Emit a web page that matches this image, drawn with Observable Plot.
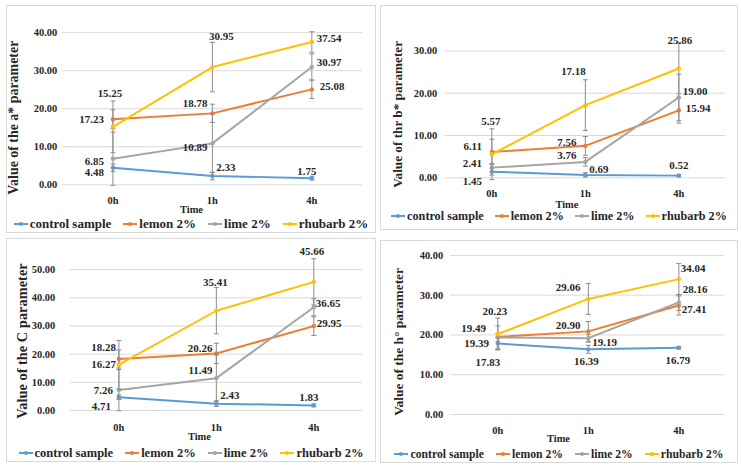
<!DOCTYPE html>
<html>
<head>
<meta charset="utf-8">
<script src="https://cdn.jsdelivr.net/npm/d3@7"></script>
<script src="https://cdn.jsdelivr.net/npm/@observablehq/plot@0.6"></script>
<style>
  body { margin: 0; background: #fff; }
  #root { position: relative; width: 741px; height: 470px; font-family: "Liberation Serif", "Times New Roman", Times, "DejaVu Serif", serif; font-weight: bold; color: #262626; }
  .panel { position: absolute; box-sizing: border-box; border: 1px solid #d9d9d9; background: #fff; }
  .panel > svg { position: absolute; left: -1px; top: -1px; overflow: visible; }
  .panel svg text { font-family: "Liberation Serif", "Times New Roman", Times, "DejaVu Serif", serif; }
  .legend { position: absolute; left: -1px; right: -1px; display: flex; justify-content: center; align-items: center; height: 16px; white-space: nowrap; }
  .legend .item { display: flex; align-items: center; }
  .legend .item svg { margin-right: 2px; }
</style>
</head>
<body>
<div id="root"></div>
<script>
// ---- data ----
const times = ["0h", "1h", "4h"];
const seriesNames = ["control sample", "lemon 2%", "lime 2%", "rhubarb 2%"];
const seriesColors = ["#5B9BD5", "#ED7D31", "#A5A5A5", "#FFC000"];

// a* parameter (rows: control, lemon, lime, rhubarb; cols: 0h, 1h, 4h)
const aValues = [[4.48, 2.33, 1.75], [17.23, 18.78, 25.08], [6.85, 10.89, 30.97], [15.25, 30.95, 37.54]];
const aErrors = [[1.0, 1.0, 0.5], [2.5, 2.4, 2.4], [7.0, 7.7, 3.4], [6.8, 6.5, 2.7]];
const aTicks = [0, 10, 20, 30, 40];

// b* parameter
const bValues = [[1.45, 0.69, 0.52], [6.11, 7.56, 15.94], [2.41, 3.76, 19.00], [5.57, 17.18, 25.86]];
const bErrors = [[0.8, 0.5, 0.3], [3.0, 2.2, 3.0], [1.0, 1.0, 5.5], [6.0, 6.0, 6.0]];
const bTicks = [0, 10, 20, 30];

// C parameter
const cValues = [[4.71, 2.43, 1.83], [18.28, 20.26, 29.95], [7.26, 11.49, 36.65], [16.27, 35.41, 45.66]];
const cErrors = [[0.8, 1.0, 0.5], [3.2, 3.6, 3.3], [7.3, 8.2, 3.0], [8.6, 8.2, 8.2]];
const cTicks = [0, 10, 20, 30, 40, 50];

// h° parameter
const hValues = [[17.83, 16.39, 16.79], [19.49, 20.90, 27.41], [19.39, 19.19, 28.16], [20.23, 29.06, 34.04]];
const hErrors = [[1.5, 1.0, 0.3], [2.8, 2.5, 2.4], [1.0, 1.0, 2.0], [4.0, 3.9, 3.9]];
const hTicks = [0, 10, 20, 30, 40];

const panelTitles = ["Value of the a* parameter", "Value of thr b* parameter", "Value of the C parameter", "Value of the h° parameter"];
const axisXTitle = "Time";

// ---- label placement (layout, not data): [dx, dy, anchor] per series per time ----
const aLabelPos = [
  [[-9, 5, "end"], [4, -9, "start"], [-5, -7, "middle"]],
  [[-9, 0, "end"], [-5, -10, "end"], [8, -3, "start"]],
  [[-9, 3, "end"], [-5, 4, "end"], [5, -5, "start"]],
  [[-3, -34, "middle"], [9, -31, "middle"], [5, -4, "start"]]
];
const bLabelPos = [
  [[-10, 10, "end"], [4, -5, "start"], [0, -10, "middle"]],
  [[-10, -6, "end"], [-9, -3, "end"], [7, -2, "start"]],
  [[-10, -4, "end"], [-9, -6, "end"], [4, -6, "start"]],
  [[-1, -33, "middle"], [-12, -34, "middle"], [1, -28, "middle"]]
];
const cLabelPos = [
  [[-8, 9, "end"], [4, -8, "start"], [-5, -8, "middle"]],
  [[-3, -12, "end"], [-4, -5, "end"], [3, -3, "start"]],
  [[-6, 0, "end"], [-4, -8, "end"], [2, -4, "start"]],
  [[-3, 0, "end"], [-1, -28, "middle"], [-2, -31, "middle"]]
];
const hLabelPos = [
  [[-10, 19, "middle"], [-2, 12, "middle"], [-1, 13, "middle"]],
  [[-12, -9, "end"], [-8, -6, "end"], [3, 4, "start"]],
  [[-9, 6, "end"], [4, 4, "start"], [4, -13, "start"]],
  [[-3, -23, "middle"], [-8, -12, "end"], [2, -11, "start"]]
];

const panels = [
  {values: aValues, errors: aErrors, ticks: aTicks, labels: aLabelPos, title: panelTitles[0],
   box: [6, 5, 370, 228], svgH: 212, m: [27.3, 12, 31.7, 56], max: 40, padY: 5, padX: 12,
   timeDx: -21, timeDy: 25, titleDx: -49, titleDy: 9, titleSize: 14, legendY: 219, legendSize: 13, legendGap: 12},
  {values: bValues, errors: bErrors, ticks: bTicks, labels: bLabelPos, title: panelTitles[1],
   box: [380, 5, 358, 225], svgH: 208, m: [45.7, 11, 34.7, 65], max: 30, padY: 8, padX: 12,
   timeDx: -18.5, timeDy: 26.5, titleDx: -48, titleDy: 0, titleSize: 13.3, legendY: 211, legendSize: 12.2, legendGap: 11},
  {values: cValues, errors: cErrors, ticks: cTicks, labels: cLabelPos, title: panelTitles[2],
   box: [6, 238, 370, 224], svgH: 206, m: [31.3, 12, 33, 64], max: 50, padY: 15, padX: 13,
   timeDx: -17, timeDy: 26, titleDx: -48, titleDy: 1, titleSize: 14.5, legendY: 215, legendSize: 12.5, legendGap: 12},
  {values: hValues, errors: hErrors, ticks: hTicks, labels: hLabelPos, title: panelTitles[3],
   box: [380, 240, 358, 223], svgH: 208, m: [15, 12, 33, 71], max: 40, padY: 8, padX: 12,
   timeDx: -29.5, timeDy: 24, titleDx: -53, titleDy: 7, titleSize: 13.5, legendY: 214, legendSize: 11.7, legendGap: 12}
];

const textColor = "#262626";
const font = "'Liberation Serif', 'Times New Roman', Times, 'DejaVu Serif', serif";
const capSymbol = {draw(ctx) { ctx.moveTo(-2.5, 0); ctx.lineTo(2.5, 0); }};

function buildPanel(cfg) {
  const rows = [];
  cfg.values.forEach((vals, s) => vals.forEach((v, t) => rows.push({
    series: seriesNames[s], time: times[t], value: v, err: cfg.errors[s][t], s, t
  })));

  const marks = [
    Plot.ruleY(cfg.ticks, {stroke: "#d9d9d9", strokeWidth: 1}),
    Plot.axisY({ticks: cfg.ticks, tickFormat: d => d.toFixed(2), tickSize: 0, tickPadding: cfg.padY,
      label: null, fontSize: 10.5, fontWeight: "bold", fill: textColor}),
    Plot.axisX({tickSize: 0, tickPadding: cfg.padX, label: null, fontSize: 10.5, fontWeight: "bold", fill: textColor}),
    Plot.text([cfg.title], {text: d => d, frameAnchor: "left", rotate: -90, textAnchor: "middle", lineAnchor: "middle",
      dx: cfg.titleDx, dy: cfg.titleDy, fontSize: cfg.titleSize, fontWeight: "bold", fill: textColor}),
    Plot.text([axisXTitle], {text: d => d, frameAnchor: "bottom", textAnchor: "middle", lineAnchor: "middle",
      dx: cfg.timeDx, dy: cfg.timeDy, fontSize: 10.5, fontWeight: "bold", fill: textColor})
  ];

  seriesNames.forEach((name, s) => {
    const d = rows.filter(r => r.s === s);
    marks.push(Plot.line(d, {x: "time", y: "value", stroke: seriesColors[s], strokeWidth: 2}));
    marks.push(Plot.ruleX(d, {x: "time", y1: r => r.value - r.err, y2: r => r.value + r.err, stroke: "#8c8c8c", strokeWidth: 1}));
    marks.push(Plot.dot(d, {x: "time", y: r => r.value - r.err, symbol: capSymbol, stroke: "#8c8c8c", fill: "none", strokeWidth: 1}));
    marks.push(Plot.dot(d, {x: "time", y: r => r.value + r.err, symbol: capSymbol, stroke: "#8c8c8c", fill: "none", strokeWidth: 1}));
    marks.push(Plot.dot(d, {x: "time", y: "value", fill: seriesColors[s], r: 2.2}));
  });

  rows.forEach(r => {
    const [dx, dy, anchor] = cfg.labels[r.s][r.t];
    marks.push(Plot.text([r], {x: "time", y: "value", text: d => d.value.toFixed(2), dx, dy, textAnchor: anchor,
      fontSize: 11, fontWeight: "bold", fill: textColor}));
  });

  const chart = Plot.plot({
    width: cfg.box[2], height: cfg.svgH,
    marginTop: cfg.m[0], marginRight: cfg.m[1], marginBottom: cfg.m[2], marginLeft: cfg.m[3],
    style: {fontFamily: font, background: "transparent", overflow: "visible"},
    x: {type: "point", domain: times, padding: 0.5},
    y: {domain: [0, cfg.max]},
    marks
  });

  const div = document.createElement("div");
  div.className = "panel";
  div.style.left = cfg.box[0] + "px";
  div.style.top = cfg.box[1] + "px";
  div.style.width = cfg.box[2] + "px";
  div.style.height = cfg.box[3] + "px";
  div.appendChild(chart);

  const legend = document.createElement("div");
  legend.className = "legend";
  legend.style.top = (cfg.legendY - 9) + "px";
  legend.style.fontSize = cfg.legendSize + "px";
  legend.style.gap = cfg.legendGap + "px";
  seriesNames.forEach((name, s) => {
    const item = document.createElement("span");
    item.className = "item";
    const c = seriesColors[s];
    item.innerHTML = `<svg width="14" height="8"><line x1="0" y1="4" x2="14" y2="4" stroke="${c}" stroke-width="2"/><circle cx="7" cy="4" r="2" fill="${c}"/></svg><span></span>`;
    item.lastChild.textContent = name;
    legend.appendChild(item);
  });
  div.appendChild(legend);
  document.getElementById("root").appendChild(div);
}

panels.forEach(buildPanel);
</script>
</body>
</html>
